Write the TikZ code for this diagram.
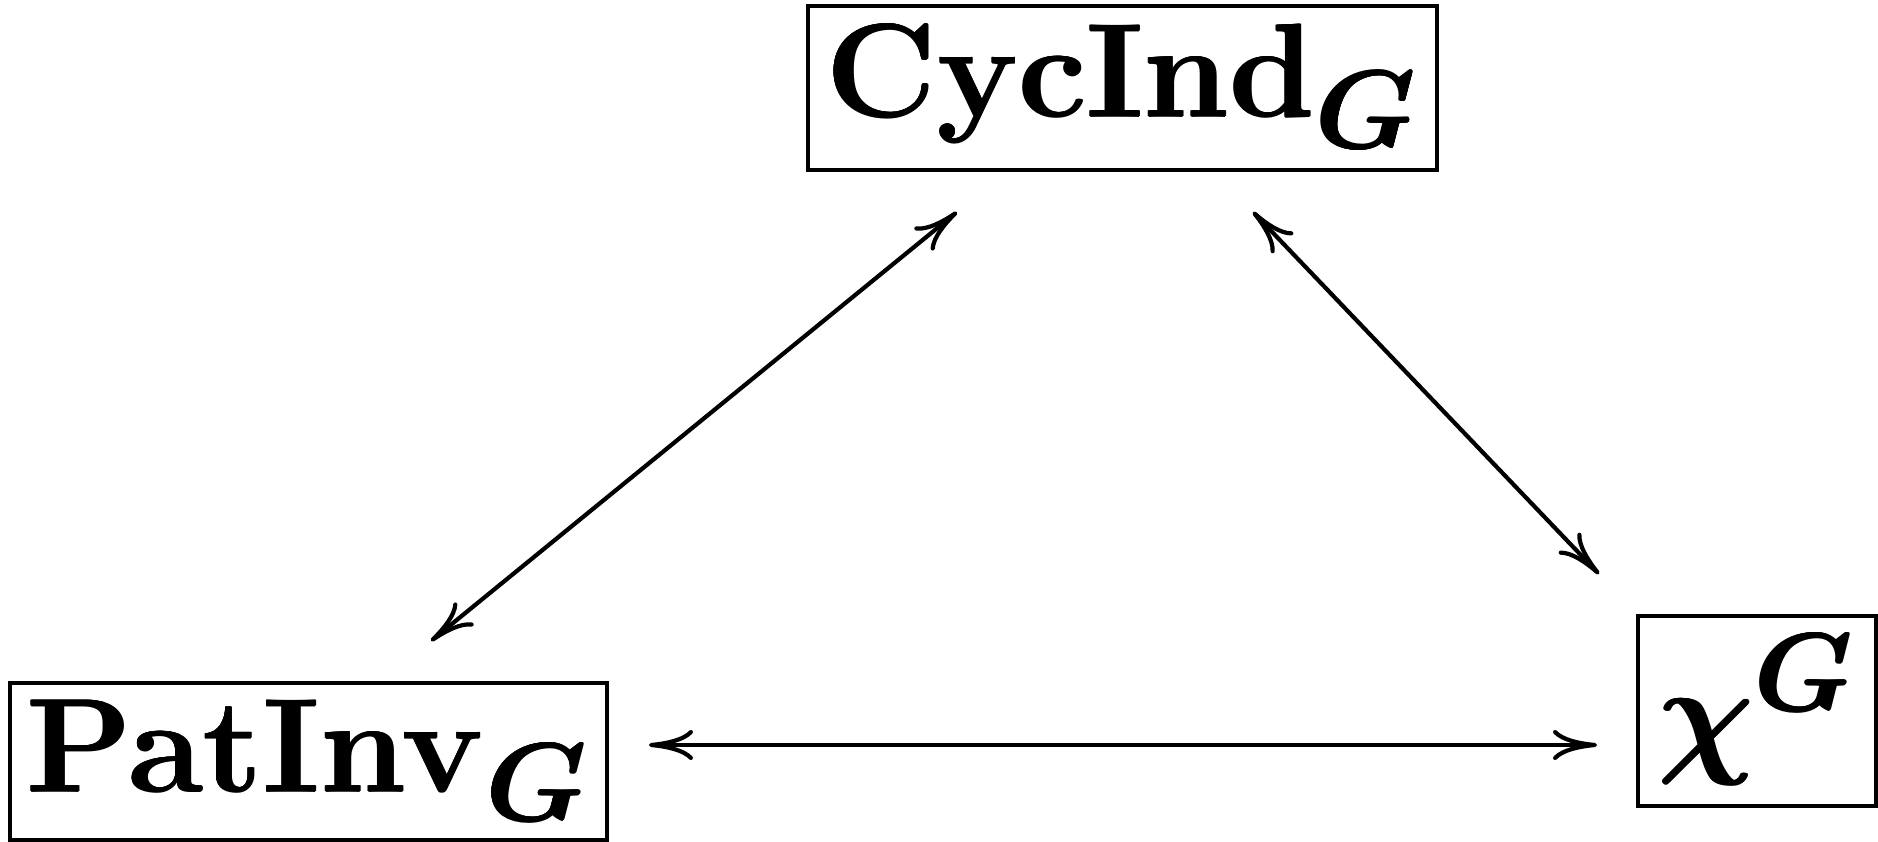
\documentclass[tikz,border=0pt]{standalone}
\usepackage{amsmath}
\usepackage{graphicx}
\usetikzlibrary{arrows.meta,calc}
\newcommand{\heavy}[1]{\makebox[0pt][l]{\kern-0.15pt#1}\makebox[0pt][l]{\kern0.15pt#1}\makebox[0pt][l]{\raisebox{0.1pt}{#1}}\makebox[0pt][l]{\raisebox{-0.1pt}{#1}}#1}
\newcommand{\bigtxt}[2]{\scalebox{#1}[0.535]{\fontsize{24.88}{30}\selectfont\boldmath\heavy{#2}}}
\begin{document}
\begin{tikzpicture}[x=0.1pt,y=-0.1pt,
  box/.style={draw, line width=0.4pt, inner sep=0pt, text depth=0pt},
  arr/.style={line width=0.42pt, line cap=round, {Computer Modern Rightarrow[round,length=4.4pt,width=3pt]}-{Computer Modern Rightarrow[round,length=4.4pt,width=3pt]}}]
\useasboundingbox (0,0) rectangle (1878,842);
\node[box, minimum width=62.9pt, minimum height=16.4pt, text height=5.8pt] (cyc) at (1122.5,88) {\bigtxt{0.55}{$\mathrm{CycInd}_G$}};
\node[box, minimum width=59.7pt, minimum height=15.7pt, text height=6.1pt] (pat) at (308.5,761.5) {\bigtxt{0.552}{$\mathrm{PatInv}_G$}};
\node[box, minimum width=23.8pt, minimum height=19pt, text height=9.6pt] (chi) at (1757,711) {\bigtxt{0.535}{$\chi^G$}};
\draw[arr] ($(pat.north)+(122.5,-40)$) -- ($(cyc.south)+(-165.5,40)$);
\draw[arr] ($(cyc.south)+(130.5,40)$) -- ($(chi.north)+(-158,-40)$);
\draw[arr] ($(pat.east)+(40,-16.5)$) -- ($(chi.west)+(-39,34)$);
\end{tikzpicture}
\end{document}
